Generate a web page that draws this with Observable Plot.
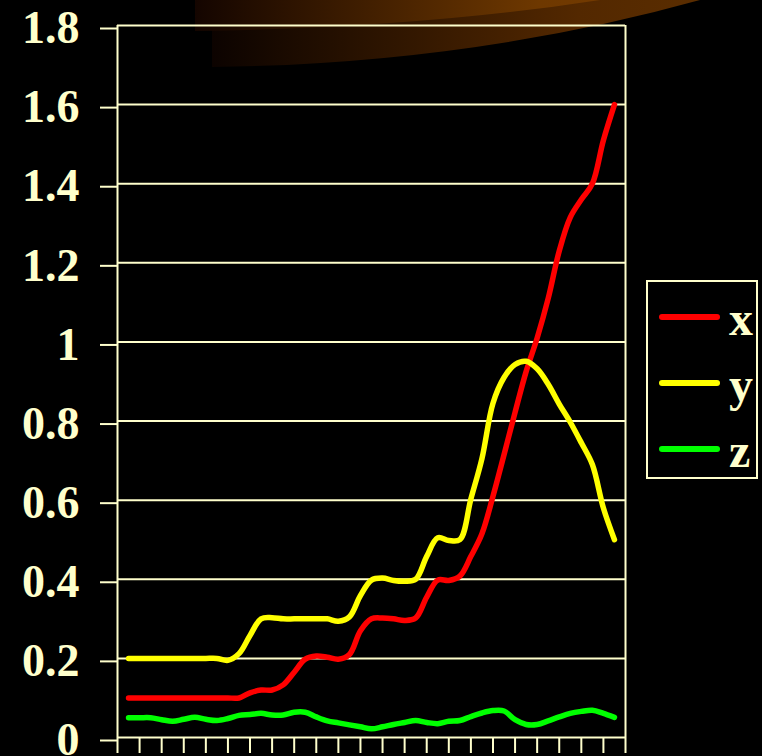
<!DOCTYPE html>
<html>
<head>
<meta charset="utf-8">
<script src="https://cdn.jsdelivr.net/npm/d3@7"></script>
<script src="https://cdn.jsdelivr.net/npm/@observablehq/plot@0.6"></script>
<style>
  html, body { margin: 0; padding: 0; background: #000; }
  #wrap { position: relative; width: 762px; height: 756px; overflow: hidden; background: #000; }
  #deco, #chart, #legend { position: absolute; }
  #deco { left: 0; top: 0; }
  #chart { left: 0; top: 0; }
  #legend { left: 646px; top: 280px; }
</style>
</head>
<body>
<div id="wrap">
  <svg id="deco" width="762" height="80">
    <defs>
      <linearGradient id="gLow" x1="212" x2="700" y1="0" y2="0" gradientUnits="userSpaceOnUse">
        <stop offset="0" stop-color="#0c0300"/>
        <stop offset="0.75" stop-color="#532800"/>
        <stop offset="1" stop-color="#5a2d00"/>
      </linearGradient>
      <linearGradient id="gHigh" x1="195" x2="600" y1="0" y2="0" gradientUnits="userSpaceOnUse">
        <stop offset="0" stop-color="#140500"/>
        <stop offset="0.85" stop-color="#6e3800"/>
        <stop offset="1" stop-color="#733a00"/>
      </linearGradient>
    </defs>
    <path d="M212,0 L212,67 Q470,64 700,0 Z" fill="url(#gLow)"/>
    <path d="M195,0 L195,31 Q420,28 600,0 Z" fill="url(#gHigh)"/>
  </svg>
  <div id="chart"></div>
  <svg id="legend" width="116" height="200"></svg>
</div>
<script>
const cream = "#FFFFCC";
const seriesNames = ["x", "y", "z"];
const seriesColors = ["#FF0000", "#FFFF00", "#00FF00"];

// sample positions along the category axis (category units, 23 categories)
const samplePos = [0.5,1,1.5,2,2.5,3,3.5,4,4.5,5,5.5,6,6.5,7,7.5,8,8.5,9,9.5,10,10.5,11,11.5,12,12.5,13,13.5,14,14.5,15,15.5,16,16.5,17,17.5,18,18.5,19,19.5,20,20.5,21,21.5,22,22.5];

const xValues = [0.10,0.10,0.10,0.10,0.10,0.10,0.10,0.10,0.10,0.10,0.10,0.113,0.12,0.12,0.133,0.165,0.198,0.206,0.203,0.198,0.21,0.27,0.30,0.302,0.30,0.296,0.302,0.355,0.398,0.397,0.408,0.458,0.515,0.61,0.715,0.822,0.925,1.01,1.11,1.23,1.315,1.36,1.40,1.51,1.60];
const yValues = [0.20,0.20,0.20,0.20,0.20,0.20,0.20,0.20,0.20,0.195,0.212,0.258,0.30,0.303,0.30,0.30,0.30,0.30,0.30,0.294,0.305,0.359,0.398,0.403,0.397,0.395,0.40,0.458,0.505,0.498,0.50,0.603,0.705,0.845,0.91,0.943,0.951,0.932,0.893,0.843,0.797,0.745,0.69,0.58,0.50];
const zValues = [0.05,0.05,0.05,0.045,0.041,0.046,0.051,0.046,0.043,0.048,0.056,0.058,0.061,0.057,0.057,0.064,0.064,0.052,0.042,0.037,0.032,0.027,0.022,0.027,0.033,0.038,0.043,0.038,0.035,0.041,0.043,0.053,0.062,0.068,0.067,0.045,0.033,0.033,0.042,0.052,0.061,0.066,0.069,0.061,0.051];

const yTicks = [0,0.2,0.4,0.6,0.8,1,1.2,1.4,1.6,1.8];
const yTickLabels = ["0","0.2","0.4","0.6","0.8","1","1.2","1.4","1.6","1.8"];
const xTicks = [0,1,2,3,4,5,6,7,8,9,10,11,12,13,14,15,16,17,18,19,20,21,22,23];

const allValues = [xValues, yValues, zValues];
const rows = [];
seriesNames.forEach((name, s) => {
  allValues[s].forEach((v, i) => rows.push({series: name, pos: samplePos[i], value: v}));
});

const plot = Plot.plot({
  width: 762,
  height: 756,
  marginLeft: 117,
  marginRight: 137,
  marginTop: 25,
  marginBottom: 19,
  style: {
    background: "transparent",
    color: cream,
    fontFamily: "'Liberation Serif', 'Times New Roman', serif",
    fontWeight: "bold",
    fontSize: "46px",
    overflow: "visible"
  },
  x: {domain: [0, 23]},
  y: {domain: [0, 1.8]},
  color: {domain: seriesNames, range: seriesColors},
  marks: [
    Plot.gridY(yTicks, {stroke: cream, strokeOpacity: 1, strokeWidth: 2}),
    Plot.ruleX([0, 23], {stroke: cream, strokeWidth: 2}),
    Plot.axisY({
      ticks: yTicks,
      tickFormat: (d, i) => yTickLabels[yTicks.indexOf(d)],
      tickSize: 17,
      tickPadding: 21,
      strokeWidth: 2,
      color: cream,
      fontSize: 46,
      fontWeight: "bold",
      dy: 3,
      label: null
    }),
    Plot.axisX({
      ticks: xTicks,
      tickFormat: () => "",
      tickSize: 16,
      strokeWidth: 2,
      color: cream,
      label: null
    }),
    Plot.line(rows, {
      x: "pos", y: "value", z: "series", stroke: "series",
      strokeWidth: 5.5, curve: "catmull-rom", strokeLinecap: "round", strokeLinejoin: "round"
    })
  ]
});
document.getElementById("chart").appendChild(plot);

// legend
const leg = d3.select("#legend");
leg.append("rect").attr("x", 1).attr("y", 1).attr("width", 110).attr("height", 197)
  .attr("fill", "none").attr("stroke", cream).attr("stroke-width", 2);
const legY = [37, 103, 169];
seriesNames.forEach((name, i) => {
  leg.append("line").attr("x1", 16).attr("x2", 71).attr("y1", legY[i]).attr("y2", legY[i])
    .attr("stroke", seriesColors[i]).attr("stroke-width", 6).attr("stroke-linecap", "round");
  leg.append("text").attr("x", 83).attr("y", legY[i] + 18).text(name)
    .attr("fill", cream).attr("font-family", "'Liberation Serif', 'Times New Roman', serif")
    .attr("font-weight", "bold").attr("font-size", 48);
});
</script>
</body>
</html>
